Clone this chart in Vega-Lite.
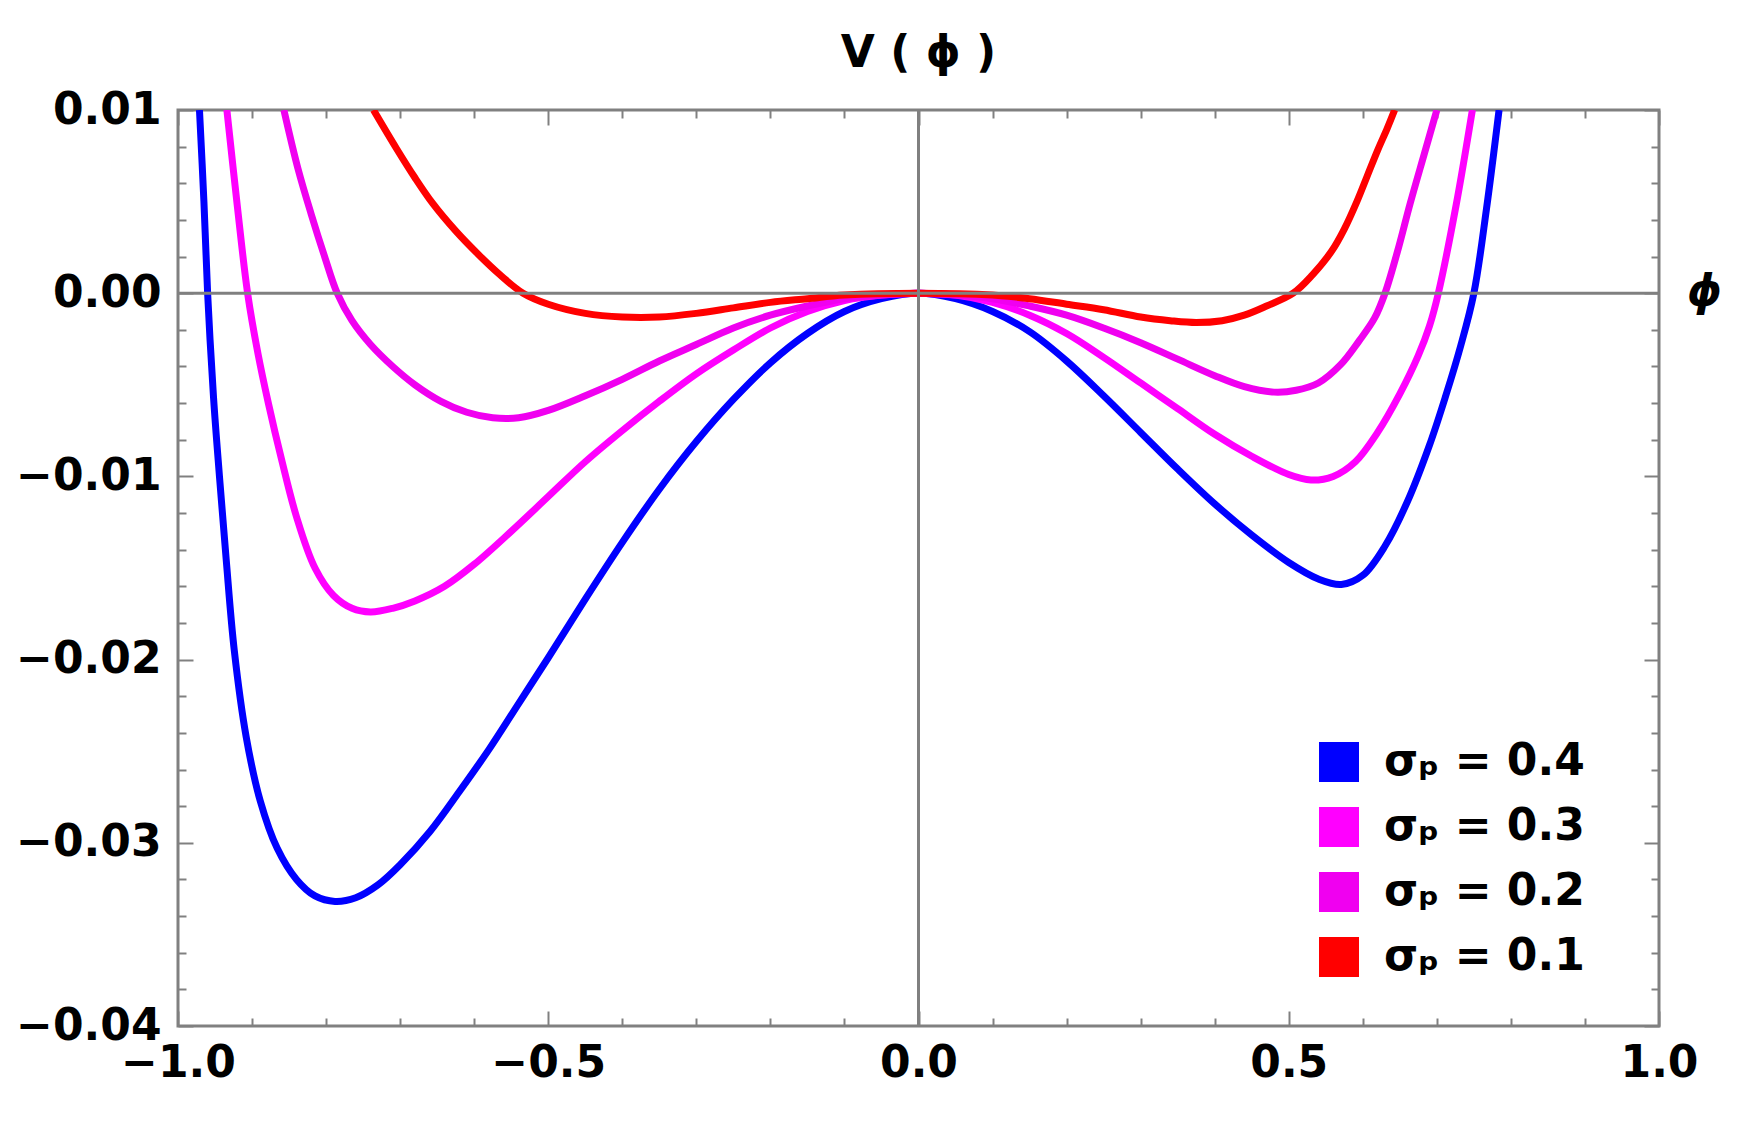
{
"$schema":"https://vega.github.io/schema/vega-lite/v6.json",
"width":1481,"height":916,
"autosize":{"type":"none"},
"padding":{"left":178,"top":110,"right":98,"bottom":98},
"background":"#ffffff",
"config":{
 "view":{"stroke":"#808080","strokeWidth":3},
 "axis":{"domain":false,"grid":false,"tickColor":"#808080","tickWidth":2,"labelFlush":false,"labelFont":"DejaVu Sans","labelFontWeight":"bold","labelFontSize":44,"labelColor":"#000000","title":null}
},
"title":{"text":"V ( ϕ )","font":"DejaVu Sans","fontSize":44,"fontWeight":"bold","color":"#000000","anchor":"middle","offset":12},
"datasets":{
"curves":[
{"s":"σₚ = 0.4","phi":-0.971,"V":0.01},
{"s":"σₚ = 0.4","phi":-0.965,"V":0.005},
{"s":"σₚ = 0.4","phi":-0.960,"V":0},
{"s":"σₚ = 0.4","phi":-0.952,"V":-0.0057},
{"s":"σₚ = 0.4","phi":-0.944,"V":-0.0100},
{"s":"σₚ = 0.4","phi":-0.935,"V":-0.0145},
{"s":"σₚ = 0.4","phi":-0.924,"V":-0.0195},
{"s":"σₚ = 0.4","phi":-0.908,"V":-0.0242},
{"s":"σₚ = 0.4","phi":-0.889,"V":-0.0277},
{"s":"σₚ = 0.4","phi":-0.866,"V":-0.0303},
{"s":"σₚ = 0.4","phi":-0.840,"V":-0.0320},
{"s":"σₚ = 0.4","phi":-0.815,"V":-0.0329},
{"s":"σₚ = 0.4","phi":-0.788,"V":-0.0332},
{"s":"σₚ = 0.4","phi":-0.760,"V":-0.0330},
{"s":"σₚ = 0.4","phi":-0.730,"V":-0.0323},
{"s":"σₚ = 0.4","phi":-0.700,"V":-0.0312},
{"s":"σₚ = 0.4","phi":-0.660,"V":-0.0294},
{"s":"σₚ = 0.4","phi":-0.620,"V":-0.0272},
{"s":"σₚ = 0.4","phi":-0.580,"V":-0.0249},
{"s":"σₚ = 0.4","phi":-0.540,"V":-0.0224},
{"s":"σₚ = 0.4","phi":-0.500,"V":-0.0199},
{"s":"σₚ = 0.4","phi":-0.450,"V":-0.0167},
{"s":"σₚ = 0.4","phi":-0.400,"V":-0.0136},
{"s":"σₚ = 0.4","phi":-0.350,"V":-0.0107},
{"s":"σₚ = 0.4","phi":-0.300,"V":-0.0081},
{"s":"σₚ = 0.4","phi":-0.250,"V":-0.0058},
{"s":"σₚ = 0.4","phi":-0.200,"V":-0.0038},
{"s":"σₚ = 0.4","phi":-0.150,"V":-0.0022},
{"s":"σₚ = 0.4","phi":-0.100,"V":-0.0010},
{"s":"σₚ = 0.4","phi":-0.050,"V":-0.0003},
{"s":"σₚ = 0.4","phi":0,"V":0},
{"s":"σₚ = 0.4","phi":0.050,"V":-0.0003},
{"s":"σₚ = 0.4","phi":0.100,"V":-0.0010},
{"s":"σₚ = 0.4","phi":0.150,"V":-0.0021},
{"s":"σₚ = 0.4","phi":0.200,"V":-0.0037},
{"s":"σₚ = 0.4","phi":0.250,"V":-0.0056},
{"s":"σₚ = 0.4","phi":0.300,"V":-0.0076},
{"s":"σₚ = 0.4","phi":0.350,"V":-0.0096},
{"s":"σₚ = 0.4","phi":0.400,"V":-0.0115},
{"s":"σₚ = 0.4","phi":0.450,"V":-0.0132},
{"s":"σₚ = 0.4","phi":0.500,"V":-0.0147},
{"s":"σₚ = 0.4","phi":0.540,"V":-0.0156},
{"s":"σₚ = 0.4","phi":0.571,"V":-0.0159},
{"s":"σₚ = 0.4","phi":0.600,"V":-0.0154},
{"s":"σₚ = 0.4","phi":0.630,"V":-0.0138},
{"s":"σₚ = 0.4","phi":0.660,"V":-0.0114},
{"s":"σₚ = 0.4","phi":0.690,"V":-0.0083},
{"s":"σₚ = 0.4","phi":0.712,"V":-0.0056},
{"s":"σₚ = 0.4","phi":0.732,"V":-0.0029},
{"s":"σₚ = 0.4","phi":0.750,"V":0},
{"s":"σₚ = 0.4","phi":0.767,"V":0.0046},
{"s":"σₚ = 0.4","phi":0.784,"V":0.01},
{"s":"σₚ = 0.3","phi":-0.934,"V":0.01},
{"s":"σₚ = 0.3","phi":-0.920,"V":0.0048},
{"s":"σₚ = 0.3","phi":-0.906,"V":0},
{"s":"σₚ = 0.3","phi":-0.892,"V":-0.0033},
{"s":"σₚ = 0.3","phi":-0.878,"V":-0.0060},
{"s":"σₚ = 0.3","phi":-0.860,"V":-0.0091},
{"s":"σₚ = 0.3","phi":-0.840,"V":-0.0122},
{"s":"σₚ = 0.3","phi":-0.815,"V":-0.0150},
{"s":"σₚ = 0.3","phi":-0.790,"V":-0.0165},
{"s":"σₚ = 0.3","phi":-0.765,"V":-0.0172},
{"s":"σₚ = 0.3","phi":-0.740,"V":-0.0174},
{"s":"σₚ = 0.3","phi":-0.710,"V":-0.0172},
{"s":"σₚ = 0.3","phi":-0.680,"V":-0.0168},
{"s":"σₚ = 0.3","phi":-0.640,"V":-0.0160},
{"s":"σₚ = 0.3","phi":-0.600,"V":-0.0148},
{"s":"σₚ = 0.3","phi":-0.550,"V":-0.0130},
{"s":"σₚ = 0.3","phi":-0.500,"V":-0.0111},
{"s":"σₚ = 0.3","phi":-0.450,"V":-0.0092},
{"s":"σₚ = 0.3","phi":-0.400,"V":-0.0075},
{"s":"σₚ = 0.3","phi":-0.350,"V":-0.0059},
{"s":"σₚ = 0.3","phi":-0.300,"V":-0.0044},
{"s":"σₚ = 0.3","phi":-0.250,"V":-0.0031},
{"s":"σₚ = 0.3","phi":-0.200,"V":-0.0019},
{"s":"σₚ = 0.3","phi":-0.150,"V":-0.0010},
{"s":"σₚ = 0.3","phi":-0.100,"V":-0.0004},
{"s":"σₚ = 0.3","phi":-0.050,"V":-0.0001},
{"s":"σₚ = 0.3","phi":0,"V":0},
{"s":"σₚ = 0.3","phi":0.050,"V":-0.0001},
{"s":"σₚ = 0.3","phi":0.100,"V":-0.0005},
{"s":"σₚ = 0.3","phi":0.150,"V":-0.0012},
{"s":"σₚ = 0.3","phi":0.200,"V":-0.0022},
{"s":"σₚ = 0.3","phi":0.250,"V":-0.0035},
{"s":"σₚ = 0.3","phi":0.300,"V":-0.0049},
{"s":"σₚ = 0.3","phi":0.350,"V":-0.0063},
{"s":"σₚ = 0.3","phi":0.400,"V":-0.0077},
{"s":"σₚ = 0.3","phi":0.450,"V":-0.0089},
{"s":"σₚ = 0.3","phi":0.500,"V":-0.0099},
{"s":"σₚ = 0.3","phi":0.530,"V":-0.0102},
{"s":"σₚ = 0.3","phi":0.560,"V":-0.0100},
{"s":"σₚ = 0.3","phi":0.590,"V":-0.0092},
{"s":"σₚ = 0.3","phi":0.620,"V":-0.0076},
{"s":"σₚ = 0.3","phi":0.650,"V":-0.0055},
{"s":"σₚ = 0.3","phi":0.675,"V":-0.0034},
{"s":"σₚ = 0.3","phi":0.690,"V":-0.0018},
{"s":"σₚ = 0.3","phi":0.702,"V":0},
{"s":"σₚ = 0.3","phi":0.726,"V":0.0048},
{"s":"σₚ = 0.3","phi":0.748,"V":0.01},
{"s":"σₚ = 0.2","phi":-0.857,"V":0.01},
{"s":"σₚ = 0.2","phi":-0.838,"V":0.0068},
{"s":"σₚ = 0.2","phi":-0.820,"V":0.0043},
{"s":"σₚ = 0.2","phi":-0.802,"V":0.0020},
{"s":"σₚ = 0.2","phi":-0.785,"V":0},
{"s":"σₚ = 0.2","phi":-0.765,"V":-0.0015},
{"s":"σₚ = 0.2","phi":-0.740,"V":-0.0028},
{"s":"σₚ = 0.2","phi":-0.710,"V":-0.0040},
{"s":"σₚ = 0.2","phi":-0.680,"V":-0.0050},
{"s":"σₚ = 0.2","phi":-0.645,"V":-0.0059},
{"s":"σₚ = 0.2","phi":-0.610,"V":-0.0065},
{"s":"σₚ = 0.2","phi":-0.575,"V":-0.0068},
{"s":"σₚ = 0.2","phi":-0.540,"V":-0.0068},
{"s":"σₚ = 0.2","phi":-0.500,"V":-0.0064},
{"s":"σₚ = 0.2","phi":-0.450,"V":-0.0056},
{"s":"σₚ = 0.2","phi":-0.400,"V":-0.0047},
{"s":"σₚ = 0.2","phi":-0.350,"V":-0.0037},
{"s":"σₚ = 0.2","phi":-0.300,"V":-0.0028},
{"s":"σₚ = 0.2","phi":-0.250,"V":-0.0019},
{"s":"σₚ = 0.2","phi":-0.200,"V":-0.0012},
{"s":"σₚ = 0.2","phi":-0.150,"V":-0.0007},
{"s":"σₚ = 0.2","phi":-0.100,"V":-0.0003},
{"s":"σₚ = 0.2","phi":-0.050,"V":-0.0001},
{"s":"σₚ = 0.2","phi":0,"V":0},
{"s":"σₚ = 0.2","phi":0.050,"V":-0.0001},
{"s":"σₚ = 0.2","phi":0.100,"V":-0.0003},
{"s":"σₚ = 0.2","phi":0.150,"V":-0.0007},
{"s":"σₚ = 0.2","phi":0.200,"V":-0.0012},
{"s":"σₚ = 0.2","phi":0.250,"V":-0.0019},
{"s":"σₚ = 0.2","phi":0.300,"V":-0.0027},
{"s":"σₚ = 0.2","phi":0.350,"V":-0.0036},
{"s":"σₚ = 0.2","phi":0.400,"V":-0.0045},
{"s":"σₚ = 0.2","phi":0.440,"V":-0.0051},
{"s":"σₚ = 0.2","phi":0.480,"V":-0.0054},
{"s":"σₚ = 0.2","phi":0.510,"V":-0.0053},
{"s":"σₚ = 0.2","phi":0.540,"V":-0.0049},
{"s":"σₚ = 0.2","phi":0.570,"V":-0.0039},
{"s":"σₚ = 0.2","phi":0.595,"V":-0.0026},
{"s":"σₚ = 0.2","phi":0.616,"V":-0.00135},
{"s":"σₚ = 0.2","phi":0.630,"V":0},
{"s":"σₚ = 0.2","phi":0.647,"V":0.0023},
{"s":"σₚ = 0.2","phi":0.664,"V":0.0049},
{"s":"σₚ = 0.2","phi":0.683,"V":0.0076},
{"s":"σₚ = 0.2","phi":0.700,"V":0.01},
{"s":"σₚ = 0.1","phi":-0.736,"V":0.01},
{"s":"σₚ = 0.1","phi":-0.705,"V":0.0079},
{"s":"σₚ = 0.1","phi":-0.680,"V":0.0063},
{"s":"σₚ = 0.1","phi":-0.656,"V":0.0049},
{"s":"σₚ = 0.1","phi":-0.625,"V":0.0034},
{"s":"σₚ = 0.1","phi":-0.594,"V":0.0021},
{"s":"σₚ = 0.1","phi":-0.565,"V":0.0010},
{"s":"σₚ = 0.1","phi":-0.534,"V":0},
{"s":"σₚ = 0.1","phi":-0.500,"V":-0.0006},
{"s":"σₚ = 0.1","phi":-0.450,"V":-0.0011},
{"s":"σₚ = 0.1","phi":-0.400,"V":-0.0013},
{"s":"σₚ = 0.1","phi":-0.350,"V":-0.0013},
{"s":"σₚ = 0.1","phi":-0.300,"V":-0.0011},
{"s":"σₚ = 0.1","phi":-0.250,"V":-0.0008},
{"s":"σₚ = 0.1","phi":-0.200,"V":-0.0005},
{"s":"σₚ = 0.1","phi":-0.150,"V":-0.0003},
{"s":"σₚ = 0.1","phi":-0.100,"V":-0.0001},
{"s":"σₚ = 0.1","phi":0,"V":0},
{"s":"σₚ = 0.1","phi":0.100,"V":-0.0001},
{"s":"σₚ = 0.1","phi":0.150,"V":-0.0003},
{"s":"σₚ = 0.1","phi":0.200,"V":-0.0006},
{"s":"σₚ = 0.1","phi":0.250,"V":-0.0009},
{"s":"σₚ = 0.1","phi":0.300,"V":-0.0013},
{"s":"σₚ = 0.1","phi":0.340,"V":-0.0015},
{"s":"σₚ = 0.1","phi":0.375,"V":-0.0016},
{"s":"σₚ = 0.1","phi":0.410,"V":-0.0015},
{"s":"σₚ = 0.1","phi":0.440,"V":-0.0012},
{"s":"σₚ = 0.1","phi":0.470,"V":-0.0007},
{"s":"σₚ = 0.1","phi":0.506,"V":0},
{"s":"σₚ = 0.1","phi":0.532,"V":0.0010},
{"s":"σₚ = 0.1","phi":0.558,"V":0.0023},
{"s":"σₚ = 0.1","phi":0.575,"V":0.0035},
{"s":"σₚ = 0.1","phi":0.592,"V":0.0050},
{"s":"σₚ = 0.1","phi":0.606,"V":0.0064},
{"s":"σₚ = 0.1","phi":0.620,"V":0.0078},
{"s":"σₚ = 0.1","phi":0.633,"V":0.0090},
{"s":"σₚ = 0.1","phi":0.643,"V":0.01}
],
"one":[{"phi":0,"V":0}]
},
"layer":[
 {"data":{"name":"curves"},
  "mark":{"type":"line","strokeWidth":7,"interpolate":"catmull-rom","clip":true},
  "encoding":{
   "x":{"field":"phi","type":"quantitative","scale":{"domain":[-1,1],"nice":false,"zero":false},
        "axis":{"orient":"bottom","values":[-1,-0.5,0,0.5,1],"format":".1f","tickSize":-15,"labelPadding":30}},
   "y":{"field":"V","type":"quantitative","scale":{"domain":[-0.04,0.01],"nice":false,"zero":false},
        "axis":{"orient":"left","values":[-0.04,-0.03,-0.02,-0.01,0,0.01],"format":".2f","tickSize":-15,"labelPadding":32}},
   "color":{"field":"s","type":"nominal",
     "scale":{"domain":["σₚ = 0.4","σₚ = 0.3","σₚ = 0.2","σₚ = 0.1"],"range":["#0000ff","#ff00ff","#f000f0","#ff0000"]},
     "legend":{"orient":"none","legendX":1139,"legendY":630,"title":null,"symbolType":"square","symbolSize":1600,"symbolStrokeWidth":0,
       "labelFont":"DejaVu Sans","labelFontSize":44,"labelFontWeight":"bold","labelColor":"#000000","labelLimit":0,"rowPadding":21,"labelOffset":23,"padding":0,
       "encode":{"symbols":{"update":{"fill":{"scale":"color","field":"value"},"fillOpacity":{"value":1},"stroke":{"value":"transparent"}}}}}}
  }},
 {"data":{"name":"one"},"mark":{"type":"point","opacity":0},
  "encoding":{
   "x":{"field":"phi","type":"quantitative","axis":{"orient":"bottom","labels":false,"tickSize":-8,"values":[-0.9,-0.8,-0.7,-0.6,-0.4,-0.3,-0.2,-0.1,0.1,0.2,0.3,0.4,0.6,0.7,0.8,0.9]}},
   "y":{"field":"V","type":"quantitative","axis":{"orient":"left","labels":false,"tickSize":-8,"values":[-0.038,-0.036,-0.034,-0.032,-0.028,-0.026,-0.024,-0.022,-0.018,-0.016,-0.014,-0.012,-0.008,-0.006,-0.004,-0.002,0.002,0.004,0.006,0.008]}}
  }},
 {"data":{"name":"one"},"mark":{"type":"point","opacity":0},
  "encoding":{
   "x":{"field":"phi","type":"quantitative","axis":{"orient":"top","labels":false,"tickSize":-8,"values":[-0.9,-0.8,-0.7,-0.6,-0.4,-0.3,-0.2,-0.1,0.1,0.2,0.3,0.4,0.6,0.7,0.8,0.9]}},
   "y":{"field":"V","type":"quantitative","axis":{"orient":"right","labels":false,"tickSize":-8,"values":[-0.038,-0.036,-0.034,-0.032,-0.028,-0.026,-0.024,-0.022,-0.018,-0.016,-0.014,-0.012,-0.008,-0.006,-0.004,-0.002,0.002,0.004,0.006,0.008]}}
  }},
 {"data":{"name":"one"},"mark":{"type":"point","opacity":0},
  "encoding":{
   "x":{"field":"phi","type":"quantitative","axis":{"orient":"top","labels":false,"tickSize":-15,"values":[-1,-0.5,0,0.5,1]}},
   "y":{"field":"V","type":"quantitative","axis":{"orient":"right","labels":false,"tickSize":-15,"values":[-0.04,-0.03,-0.02,-0.01,0,0.01]}}
  }},
 {"data":{"name":"one"},"mark":{"type":"rule","color":"#808080","strokeWidth":3},
  "encoding":{"x":{"field":"phi","type":"quantitative","axis":null}}},
 {"data":{"name":"one"},"mark":{"type":"rule","color":"#808080","strokeWidth":3},
  "encoding":{"y":{"field":"V","type":"quantitative","axis":null}}},
 {"data":{"name":"one"},"mark":{"type":"text","text":"ϕ","dx":28,"align":"left","baseline":"middle","fontSize":44,"fontStyle":"italic","fontWeight":"bold","font":"DejaVu Sans","color":"#000000"},
  "encoding":{"x":{"datum":1,"type":"quantitative","axis":null},"y":{"datum":0,"type":"quantitative","axis":null}}}
],
"resolve":{"axis":{"x":"independent","y":"independent"}}
}
